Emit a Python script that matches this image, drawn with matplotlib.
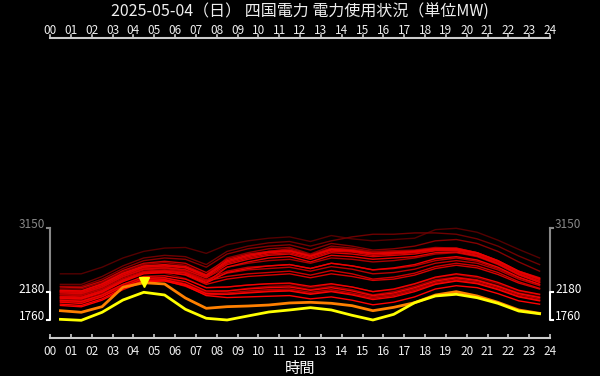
import matplotlib
matplotlib.use("Agg")
import matplotlib.pyplot as plt
import matplotlib.transforms as mtransforms
import numpy as np

plt.rcParams['font.family'] = ['Noto Sans CJK JP', 'DejaVu Sans']

title = "2025-05-04（日） 四国電力 電力使用状況（単位MW)"
hours = [h + 0.5 for h in range(24)]
xtick_labels = [f"{h:02d}" for h in range(25)]

# past days (oldest first -> darkest first)
past_days = [
    [2460,2460,2560,2700,2800,2850,2860,2770,2900,2960,3000,3020,2950,3040,2990,2960,2980,3000,3130,3150,3090,2970,2830,2700],
    [2300,2300,2420,2580,2700,2740,2720,2600,2800,2880,2930,2950,2880,2960,3020,3060,3060,3080,3080,3060,2990,2880,2730,2600],
    [2150,2140,2230,2370,2470,2470,2390,2250,2260,2290,2310,2310,2250,2300,2260,2190,2220,2300,2400,2450,2400,2310,2200,2140],
    [2270,2270,2380,2540,2660,2700,2680,2560,2760,2840,2880,2900,2820,2920,2880,2820,2840,2880,2960,2980,2920,2800,2640,2500],
    [2230,2230,2330,2490,2600,2630,2590,2450,2700,2780,2840,2860,2760,2880,2850,2800,2810,2820,2860,2850,2780,2650,2480,2380],
    [2080,2070,2160,2300,2400,2400,2310,2180,2200,2240,2270,2280,2220,2270,2220,2140,2190,2270,2370,2410,2370,2280,2170,2110],
    [2200,2190,2300,2460,2570,2590,2550,2420,2640,2740,2800,2840,2750,2850,2830,2790,2800,2790,2830,2830,2760,2620,2460,2350],
    [2180,2170,2280,2440,2540,2560,2520,2400,2560,2620,2660,2680,2620,2700,2680,2640,2660,2700,2760,2780,2720,2600,2440,2330],
    [2060,2050,2140,2280,2380,2380,2290,2160,2170,2200,2220,2230,2180,2220,2170,2110,2150,2230,2330,2380,2340,2250,2140,2080],
    [2150,2150,2250,2410,2520,2540,2500,2370,2500,2560,2580,2600,2540,2620,2580,2520,2540,2580,2660,2700,2650,2540,2400,2300],
    [2140,2130,2230,2390,2500,2520,2490,2360,2470,2520,2540,2560,2500,2570,2530,2460,2480,2530,2620,2660,2620,2520,2380,2280],
    [2040,2030,2120,2260,2360,2360,2270,2140,2150,2180,2200,2210,2160,2200,2150,2090,2130,2210,2310,2360,2320,2230,2120,2060],
    [2260,2250,2350,2510,2620,2650,2620,2480,2680,2760,2800,2820,2740,2840,2820,2770,2790,2810,2850,2850,2780,2660,2500,2400],
    [2120,2110,2210,2370,2490,2510,2480,2350,2420,2460,2480,2500,2440,2510,2460,2380,2410,2470,2570,2620,2580,2480,2340,2240],
    [2200,2200,2300,2460,2560,2580,2560,2430,2620,2700,2760,2780,2700,2800,2790,2740,2760,2780,2820,2820,2760,2640,2480,2370],
    [2100,2090,2190,2350,2470,2490,2440,2300,2380,2420,2440,2460,2400,2460,2420,2360,2380,2440,2540,2590,2550,2450,2320,2230],
    [2170,2160,2260,2420,2530,2550,2520,2400,2600,2680,2740,2760,2680,2780,2760,2720,2740,2760,2810,2810,2740,2620,2460,2350],
    [2190,2180,2280,2440,2560,2580,2550,2420,2640,2720,2780,2800,2720,2820,2800,2760,2770,2790,2830,2830,2770,2650,2490,2380],
    [2110,2100,2200,2360,2480,2500,2470,2330,2560,2640,2700,2720,2640,2740,2720,2680,2700,2720,2780,2790,2730,2610,2450,2330],
    [2210,2200,2310,2470,2580,2600,2570,2440,2660,2740,2790,2810,2730,2830,2810,2770,2780,2800,2840,2840,2780,2660,2500,2390],
    [2090,2080,2180,2340,2460,2480,2450,2320,2480,2540,2580,2600,2540,2620,2580,2520,2550,2600,2690,2720,2670,2560,2410,2300],
    [2060,2040,2140,2300,2420,2430,2380,2250,2260,2290,2310,2320,2270,2310,2260,2190,2230,2310,2410,2460,2420,2330,2210,2150],
    [2030,2010,2110,2270,2390,2400,2340,2200,2200,2230,2250,2260,2210,2250,2200,2130,2170,2250,2350,2400,2360,2270,2160,2100],
    [2000,1980,2080,2240,2360,2370,2300,2160,2150,2170,2190,2200,2150,2190,2140,2070,2110,2190,2300,2350,2310,2220,2110,2050],
    [1980,1960,2060,2220,2340,2350,2280,2130,2100,2110,2120,2130,2080,2110,2060,1990,2030,2110,2230,2280,2250,2160,2050,2000],
]

yesterday = [1901,1877,1962,2256,2325,2306,2093,1937,1962,1972,1987,2018,2028,2013,1977,1901,1952,2022,2139,2189,2124,2028,1912,1861]
today = [1770,1755,1877,2063,2180,2139,1922,1786,1760,1821,1881,1912,1947,1912,1831,1760,1846,2022,2124,2150,2098,2013,1896,1855]

y_max_all = 3150
y_peak_today = 2180
y_min_today = 1760

W, H = 600, 376
fig = plt.figure(figsize=(W/100, H/100), dpi=100, facecolor='black')
ax = fig.add_axes([50/W, (H-338)/H, 500/W, 300/H], facecolor='black')
ax.set_xlim(0, 24)
ax.set_ylim(1487, 6035)

n = len(past_days)
for i, d in enumerate(past_days):
    t = i / (n - 1)
    c = (0.33 + 0.67 * t ** 0.6, 0, 0)
    ax.plot(hours, d, color=c, lw=1.0)
ax.plot(hours, yesterday, color='#ff8000', lw=2.0)
ax.plot(hours, today, color='#ffff00', lw=2.0)

ipk = int(np.argmax(today))
off = mtransforms.offset_copy(ax.transData, fig=fig, x=0, y=7.5, units='points')
ax.plot([hours[ipk]], [today[ipk]], marker='v', color='#ffff00', ms=7, transform=off, clip_on=False)

# spines / x-axes
for s in ['left', 'right']:
    ax.spines[s].set_visible(False)
for s in ['top', 'bottom']:
    ax.spines[s].set_color('#cccccc')
    ax.spines[s].set_linewidth(1.5)
ax.set_xticks(range(25))
ax.set_xticklabels(xtick_labels)
ax.tick_params(axis='x', bottom=True, top=False, labelbottom=True, labeltop=False,
               colors='#cccccc', labelcolor='#eeeeee', labelsize=8.5, length=3, width=1.2,
               direction='in', pad=5)
ax.set_yticks([])

trans_top = ax.get_xaxis_transform()
for xv in range(25):
    ax.plot([xv, xv], [1.0, 1.0 + 3/300], transform=trans_top, color='#cccccc', lw=1.2, clip_on=False)
    ax.text(xv, 1.0 + 8/300, xtick_labels[xv], transform=trans_top, color='#eeeeee',
            fontsize=8.5, ha='center', va='center')

ax.set_xlabel('時間', color='white', fontsize=11, labelpad=1.5)

# y brackets drawn on both sides
tr = mtransforms.blended_transform_factory(ax.transAxes, ax.transData)
for side in ['left', 'right']:
    xpos = 0 if side == 'left' else 1
    sgn = -1 if side == 'left' else 1
    dx = 3 / 500 * sgn
    ax.plot([xpos, xpos], [y_peak_today, y_max_all], transform=tr, color='#888888', lw=1.5, clip_on=False)
    ax.plot([xpos, xpos + dx], [y_max_all, y_max_all], transform=tr, color='#888888', lw=1.5, clip_on=False)
    ax.plot([xpos + dx, xpos, xpos, xpos + dx], [y_peak_today, y_peak_today, y_min_today, y_min_today],
            transform=tr, color='white', lw=1.5, clip_on=False)
    tx = xpos + sgn * 5 / 500
    ha = 'right' if side == 'left' else 'left'
    ttr = mtransforms.offset_copy(tr, fig=fig, x=0, y=3, units='dots')
    ttr4 = mtransforms.offset_copy(tr, fig=fig, x=0, y=4, units='dots')
    ax.text(tx, y_max_all, str(y_max_all), transform=ttr4, color='#888888', fontsize=8.5, ha=ha, va='center')
    ax.text(tx, y_peak_today, str(y_peak_today), transform=ttr, color='white', fontsize=8.5, ha=ha, va='center')
    ax.text(tx, y_min_today, str(y_min_today), transform=ttr, color='white', fontsize=8.5, ha=ha, va='center')

fig.text(0.5, 1 - 12/H, title, color='#eeeeee', fontsize=11.5, ha='center', va='center')

fig.savefig('out.png', dpi=100, facecolor='black')
